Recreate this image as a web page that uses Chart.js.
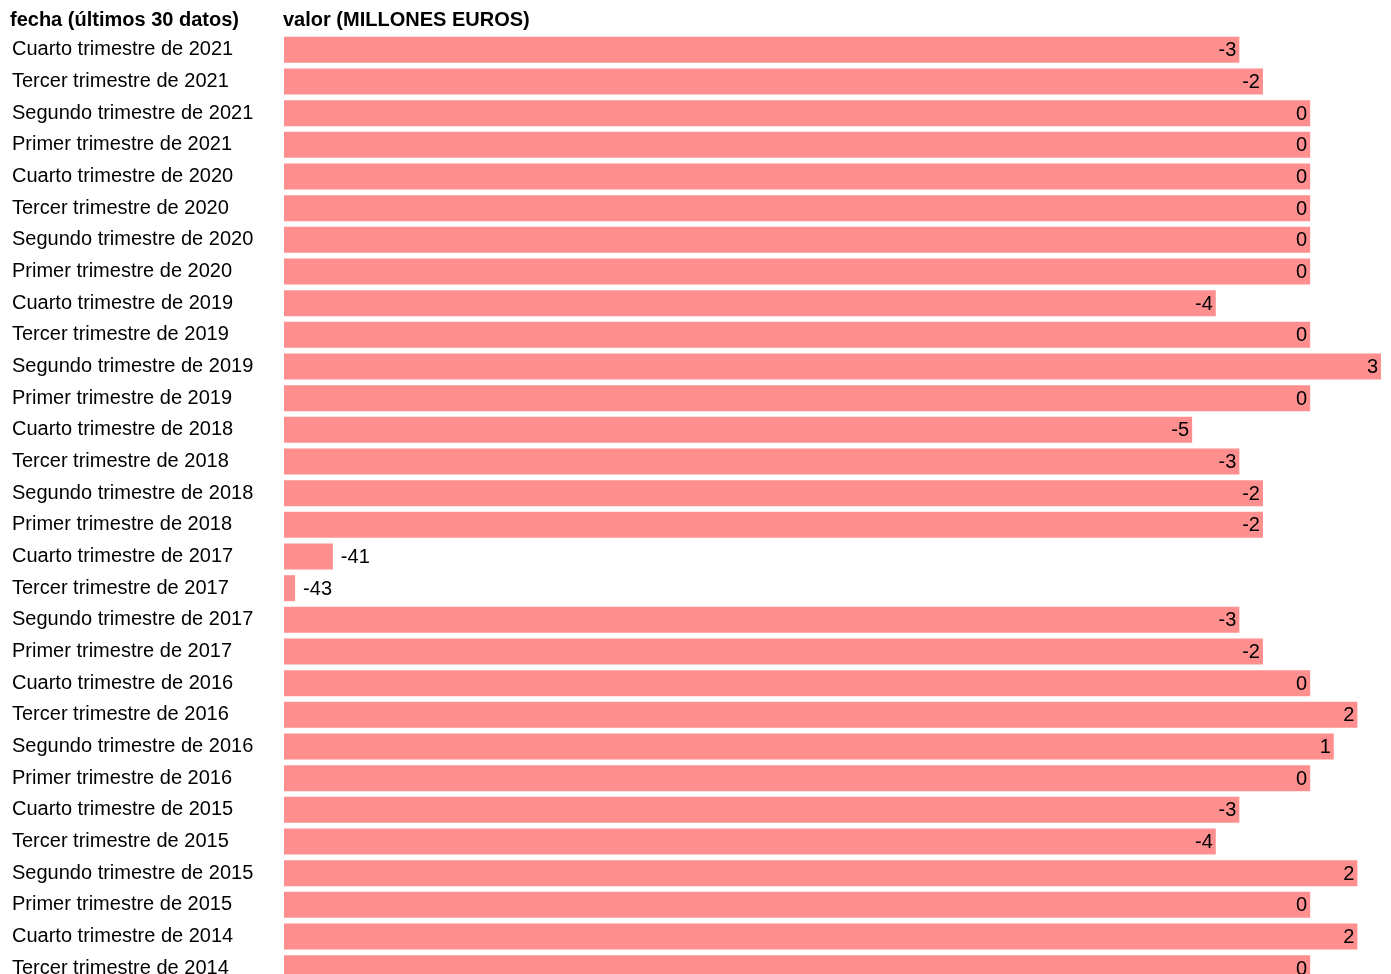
<!DOCTYPE html>
<html>
<head>
<meta charset="utf-8">
<script src="https://cdn.jsdelivr.net/npm/chart.js@4.4.0/dist/chart.umd.min.js"></script>
<style>
  html, body { margin: 0; padding: 0; background: #fff; overflow: hidden; }
  #wrap { position: relative; width: 1391px; height: 974px; overflow: hidden; }
  .head { position: absolute; top: 8px; font: bold 20px "Liberation Sans", Arial, sans-serif; color: #000; white-space: nowrap; }
  canvas { position: absolute; left: 0; top: 0; }
</style>
</head>
<body>
<div id="wrap">
  <canvas id="chart" width="1391" height="999"></canvas>
  <div class="head" id="headLeft" style="left:10px"></div>
  <div class="head" id="headRight" style="left:283px"></div>
</div>
<script>
var headers = ['fecha (últimos 30 datos)', 'valor (MILLONES EUROS)'];

var periods = [
  'Cuarto trimestre de 2021', 'Tercer trimestre de 2021', 'Segundo trimestre de 2021', 'Primer trimestre de 2021',
  'Cuarto trimestre de 2020', 'Tercer trimestre de 2020', 'Segundo trimestre de 2020', 'Primer trimestre de 2020',
  'Cuarto trimestre de 2019', 'Tercer trimestre de 2019', 'Segundo trimestre de 2019', 'Primer trimestre de 2019',
  'Cuarto trimestre de 2018', 'Tercer trimestre de 2018', 'Segundo trimestre de 2018', 'Primer trimestre de 2018',
  'Cuarto trimestre de 2017', 'Tercer trimestre de 2017', 'Segundo trimestre de 2017', 'Primer trimestre de 2017',
  'Cuarto trimestre de 2016', 'Tercer trimestre de 2016', 'Segundo trimestre de 2016', 'Primer trimestre de 2016',
  'Cuarto trimestre de 2015', 'Tercer trimestre de 2015', 'Segundo trimestre de 2015', 'Primer trimestre de 2015',
  'Cuarto trimestre de 2014', 'Tercer trimestre de 2014'
];

var values = [
  -3, -2, 0, 0,
  0, 0, 0, 0,
  -4, 0, 3, 0,
  -5, -3, -2, -2,
  -41.4, -43, -3, -2,
  0, 2, 1, 0,
  -3, -4, 2, 0,
  2, 0
];

var xMin = -43.47;
var xMax = 3;
var barColor = '#ff8e8e';
var font = '"Liberation Sans", Arial, sans-serif';

document.getElementById('headLeft').textContent = headers[0];
document.getElementById('headRight').textContent = headers[1];

// value labels: inside the bar end, or just outside when the bar is short
var valueLabels = {
  id: 'valueLabels',
  afterDatasetsDraw: function(chart) {
    var ctx = chart.ctx;
    var meta = chart.getDatasetMeta(0);
    ctx.save();
    ctx.font = '20px ' + font;
    ctx.fillStyle = '#000';
    ctx.textBaseline = 'middle';
    meta.data.forEach(function(bar, i) {
      var txt = String(Math.round(values[i]));
      var barW = bar.x - bar.base;
      if (barW > 100) {
        ctx.textAlign = 'right';
        ctx.fillText(txt, bar.x - 3, bar.y + 1);
      } else {
        ctx.textAlign = 'left';
        ctx.fillText(txt, bar.x + 8, bar.y + 1);
      }
    });
    ctx.restore();
  }
};

var ctx = document.getElementById('chart').getContext('2d');
new Chart(ctx, {
  type: 'bar',
  data: {
    labels: periods,
    datasets: [{
      data: values,
      base: xMin,
      backgroundColor: barColor,
      borderWidth: 0,
      barPercentage: 0.82,
      categoryPercentage: 1
    }]
  },
  options: {
    indexAxis: 'y',
    responsive: false,
    animation: false,
    layout: { padding: { left: 12, right: 10, top: 34, bottom: 0 } },
    plugins: {
      legend: { display: false },
      tooltip: { enabled: false }
    },
    scales: {
      x: {
        display: false,
        min: xMin,
        max: xMax
      },
      y: {
        grid: { display: false, drawTicks: false },
        border: { display: false },
        ticks: {
          autoSkip: false,
          crossAlign: 'far',
          color: '#000',
          font: { family: font, size: 20 }
        },
        afterFit: function(scale) { scale.width = 272; }
      }
    }
  },
  plugins: [valueLabels]
});
</script>
</body>
</html>
